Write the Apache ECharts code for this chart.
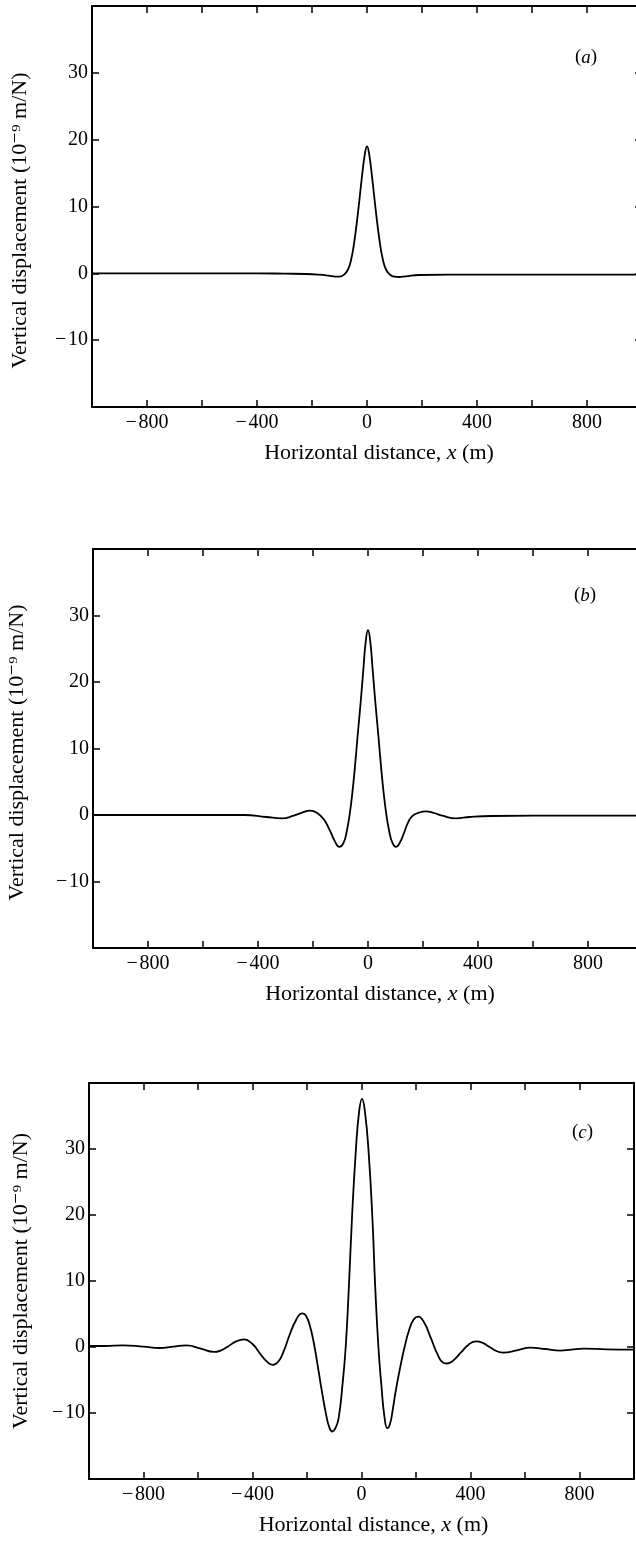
<!DOCTYPE html>
<html>
<head>
<meta charset="utf-8">
<script src="https://cdn.jsdelivr.net/npm/echarts@6/dist/echarts.min.js"></script>
<style>
  html, body { margin: 0; padding: 0; background: #fff; }
  #chart { width: 636px; height: 1542px; }
</style>
</head>
<body>
<div id="chart"></div>
<script>
// values (x in m, y in 10^-9 m/N)
const xA = [-1000, -800, -600, -400, -300, -220, -175, -140, -115, -100, -85, -70, -58, -46, -33, -19, -8, 0, 8, 19, 33, 46, 58, 70, 85, 100, 117, 140, 190, 300, 400, 600, 800, 1000];
const yA = [0, 0, 0, 0, -0.05, -0.1, -0.2, -0.35, -0.5, -0.5, -0.25, 0.5, 2, 4.8, 9, 14.2, 17.8, 19, 17.8, 14.2, 9, 4.8, 2, 0.5, -0.25, -0.5, -0.55, -0.45, -0.25, -0.2, -0.2, -0.2, -0.2, -0.2];

const xB = [-1000, -800, -600, -450, -370, -313, -270, -240, -211, -185, -160, -140, -120, -104, -89, -77, -66, -57, -48, -38, -27, -17, -8, 0, 8, 17, 27, 38, 48, 57, 66, 77, 89, 102, 115, 130, 145, 160, 185, 211, 240, 270, 320, 370, 450, 600, 800, 1000];
const yB = [0, 0, 0, 0, -0.3, -0.5, -0.1, 0.35, 0.65, 0.3, -0.7, -2.2, -4, -4.8, -4.2, -2.4, 0.3, 3.3, 7, 11.8, 16.8, 21.8, 26.2, 27.8, 26.2, 21.8, 16.8, 11.8, 7, 3.3, 0.3, -2.4, -4.2, -4.8, -4.2, -2.8, -1.2, -0.2, 0.35, 0.55, 0.3, -0.1, -0.5, -0.3, -0.15, -0.1, -0.1, -0.1];

const xC = [-1000, -940, -876, -800, -741, -690, -643, -590, -541, -515, -490, -460, -431, -400, -375, -350, -325, -305, -285, -265, -240, -218, -205, -190, -175, -160, -145, -130, -118, -107, -96, -84, -70, -58, -46, -35, -21, -9, 2, 13, 26, 40, 50, 62, 73, 84, 95, 105, 115, 125, 140, 157, 175, 192, 208, 230, 255, 280, 300, 312, 335, 365, 395, 421, 445, 470, 495, 520, 570, 620, 675, 729, 770, 814, 900, 1000];
const yC = [0.15, 0.15, 0.25, 0.05, -0.15, 0.05, 0.25, -0.25, -0.75, -0.5, 0.08, 0.85, 1.15, 0.45, -0.85, -2.1, -2.7, -2.2, -0.6, 1.7, 4.1, 5.1, 4.8, 3.3, 0.6, -3, -6.8, -10.2, -12.2, -12.8, -12.3, -10.8, -5.8, 0, 9.4, 19.5, 29.6, 35.6, 37.6, 35.5, 29.6, 19.5, 9.4, 0, -5.8, -10.5, -12.3, -11.6, -9.4, -6.8, -3.5, -0.2, 2.6, 4.2, 4.6, 3.7, 1.3, -1.2, -2.4, -2.5, -2.1, -0.83, 0.43, 0.85, 0.62, 0, -0.6, -0.85, -0.5, -0.1, -0.3, -0.55, -0.4, -0.25, -0.35, -0.4];

const xTickLabels = [-800, -400, 0, 400, 800];
const yTickLabels = [-10, 0, 10, 20, 30];
const panelLetters = ['a', 'b', 'c'];

const FONT = '"Liberation Serif", "DejaVu Serif", serif';
const BLACK = '#000';

const panels = [
	{ xs: xA, ys: yA, grid: { left: 92, top: 6, width: 550, height: 401 }, label: { left: 570, top: 43 }, yNameGap: 61, yNamePad: [0, 28, 0, 0] },
	{ xs: xB, ys: yB, grid: { left: 93, top: 549, width: 550, height: 399 }, label: { left: 569, top: 581 }, yNameGap: 65, yNamePad: [0, 8, 0, 0] },
	{ xs: xC, ys: yC, grid: { left: 89, top: 1083, width: 545, height: 396 }, label: { left: 567, top: 1118 }, yNameGap: 57, yNamePad: [6, 0, 0, 0] },
];

function fmt(v, shown) {
	if (!shown.includes(v)) return '';
	return v < 0 ? '\u2212\u200a' + Math.abs(v) : String(v);
}

const lineStyle = { color: BLACK, width: 2 };
const tick = { show: true, inside: true, length: 7, lineStyle: { color: BLACK, width: 1.5 } };

const grid = [], xAxis = [], yAxis = [], series = [], title = [];

panels.forEach((p, i) => {
	grid.push(Object.assign({ outerBoundsMode: 'none', containLabel: false }, p.grid));
	xAxis.push({
		gridIndex: i, type: 'value', position: 'bottom',
		min: -1000, max: 1000, interval: 200,
		axisLine: { onZero: false, lineStyle },
		axisTick: tick,
		splitLine: { show: false },
		axisLabel: { margin: 6, color: BLACK, fontFamily: FONT, fontSize: 20, formatter: (v) => fmt(v, xTickLabels) },
		name: 'Horizontal distance, {i|x} (m)',
		nameLocation: 'middle', nameGap: 35,
		nameTextStyle: {
			color: BLACK, fontFamily: FONT, fontSize: 22, padding: [0, 0, 0, 24],
			rich: { i: { fontStyle: 'italic', fontFamily: FONT, fontSize: 22, color: BLACK } },
		},
	});
	xAxis.push({
		gridIndex: i, type: 'value', position: 'top',
		min: -1000, max: 1000, interval: 200,
		axisLine: { onZero: false, lineStyle },
		axisTick: tick,
		splitLine: { show: false },
		axisLabel: { show: false },
	});
	yAxis.push({
		gridIndex: i, type: 'value', position: 'left',
		min: -20, max: 40, interval: 10,
		axisLine: { onZero: false, lineStyle },
		axisTick: tick,
		splitLine: { show: false },
		axisLabel: { margin: 4, color: BLACK, fontFamily: FONT, fontSize: 20, formatter: (v) => fmt(v, yTickLabels) },
		name: 'Vertical displacement (10\u207b\u2079 m/N)',
		nameLocation: 'middle', nameGap: p.yNameGap,
		nameTextStyle: { color: BLACK, fontFamily: FONT, fontSize: 22, padding: p.yNamePad },
	});
	yAxis.push({
		gridIndex: i, type: 'value', position: 'right',
		min: -20, max: 40, interval: 10,
		axisLine: { onZero: false, lineStyle },
		axisTick: tick,
		splitLine: { show: false },
		axisLabel: { show: false },
	});
	series.push({
		type: 'line',
		xAxisIndex: i * 2, yAxisIndex: i * 2,
		data: p.xs.map((x, j) => [x, p.ys[j]]),
		showSymbol: false,
		smooth: 0.5,
		lineStyle: { color: BLACK, width: 1.8 },
		silent: true,
	});
	title.push({
		text: '({i|' + panelLetters[i] + '})',
		left: p.label.left, top: p.label.top,
		textStyle: {
			color: BLACK, fontFamily: FONT, fontSize: 19, fontWeight: 'normal',
			rich: { i: { fontStyle: 'italic', fontFamily: FONT, fontSize: 19, color: BLACK } },
		},
	});
});

const chart = echarts.init(document.getElementById('chart'));
chart.setOption({
	animation: false,
	backgroundColor: '#fff',
	title, grid, xAxis, yAxis, series,
});
</script>
</body>
</html>
